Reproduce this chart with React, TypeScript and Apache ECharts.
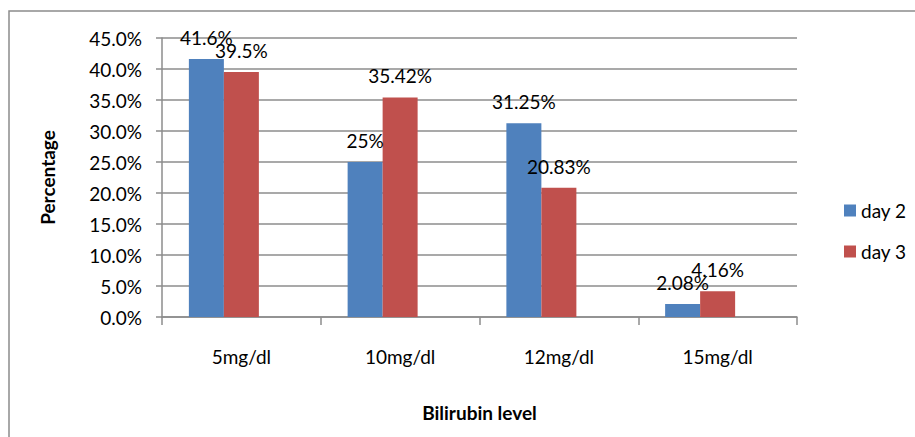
import React, { useEffect, useRef } from "react";
import * as echarts from "echarts";

const categories = ["5mg/dl", "10mg/dl", "12mg/dl", "15mg/dl"];
const day2 = [41.6, 25, 31.25, 2.08];
const day3 = [39.5, 35.42, 20.83, 4.16];
const seriesNames = ["day 2", "day 3"];
const colors = ["#4F81BD", "#C0504D"];
const yTicks = { min: 0, max: 45, interval: 5 };
const xTitle = "Bilirubin level";
const yTitle = "Percentage";

export default function App() {
  const ref = useRef<HTMLDivElement>(null);
  useEffect(() => {
    if (!ref.current) return;
    const chart = echarts.init(ref.current, null, { renderer: "svg" });
    const font = "Lato";
    const labelCommon = {
      show: true,
      position: "top" as const,
      distance: 12,
      formatter: "{c}%",
      color: "#000",
      fontFamily: font,
      fontSize: 19,
    };
    chart.setOption({
      animation: false,
      backgroundColor: "#fff",
      graphic: [
        {
          type: "rect",
          shape: { x: 9, y: 11, width: 1000, height: 1000 },
          style: { fill: "none", stroke: "#8c8c8c", lineWidth: 1.5 },
          silent: true,
        },
      ],
      grid: { left: 162, top: 38, right: 118, bottom: 120, containLabel: false },
      legend: {
        data: seriesNames,
        orient: "vertical",
        left: 839,
        top: 196,
        itemWidth: 12,
        itemHeight: 12,
        itemGap: 22,
        icon: "rect",
        textStyle: { fontFamily: font, fontSize: 19, color: "#000", padding: [0, 0, 0, 0] },
      },
      xAxis: {
        type: "category",
        data: categories,
        axisLine: { lineStyle: { color: "#8c8c8c", width: 1.5 } },
        axisTick: { show: true, length: 8, lineStyle: { color: "#8c8c8c", width: 1.5 } },
        axisLabel: { fontFamily: font, fontSize: 19, color: "#000", margin: 30 },
        name: xTitle,
        nameLocation: "middle",
        nameGap: 86,
        nameTextStyle: { fontFamily: font, fontSize: 19, fontWeight: "bold", color: "#000" },
      },
      yAxis: {
        type: "value",
        min: yTicks.min,
        max: yTicks.max,
        interval: yTicks.interval,
        axisLine: { show: true, lineStyle: { color: "#8c8c8c", width: 1.5 } },
        axisTick: { show: true, length: 6, lineStyle: { color: "#8c8c8c", width: 1.5 } },
        splitLine: { show: true, lineStyle: { color: "#8c8c8c", width: 1.5 } },
        axisLabel: {
          fontFamily: font,
          fontSize: 19,
          color: "#000",
          margin: 20,
          formatter: (v: number) => v.toFixed(1) + "%",
        },
        name: yTitle,
        nameLocation: "middle",
        nameGap: 105,
        nameRotate: 90,
        nameTextStyle: { fontFamily: font, fontSize: 19, fontWeight: "bold", color: "#000" },
      },
      series: [
        {
          name: seriesNames[0],
          type: "bar",
          data: day2,
          barWidth: 35,
          barGap: "0%",
          itemStyle: { color: colors[0] },
          label: labelCommon,
        },
        {
          name: seriesNames[1],
          type: "bar",
          data: day3,
          barWidth: 35,
          barGap: "0%",
          itemStyle: { color: colors[1] },
          label: labelCommon,
        },
        {
          name: "",
          type: "bar",
          data: categories.map(() => null),
          barWidth: 35,
          barGap: "0%",
        },
      ],
    });
    return () => chart.dispose();
  }, []);
  return (
    <div
      ref={ref}
      style={{ position: "absolute", left: 0, top: 0, width: 915, height: 437 }}
    />
  );
}
